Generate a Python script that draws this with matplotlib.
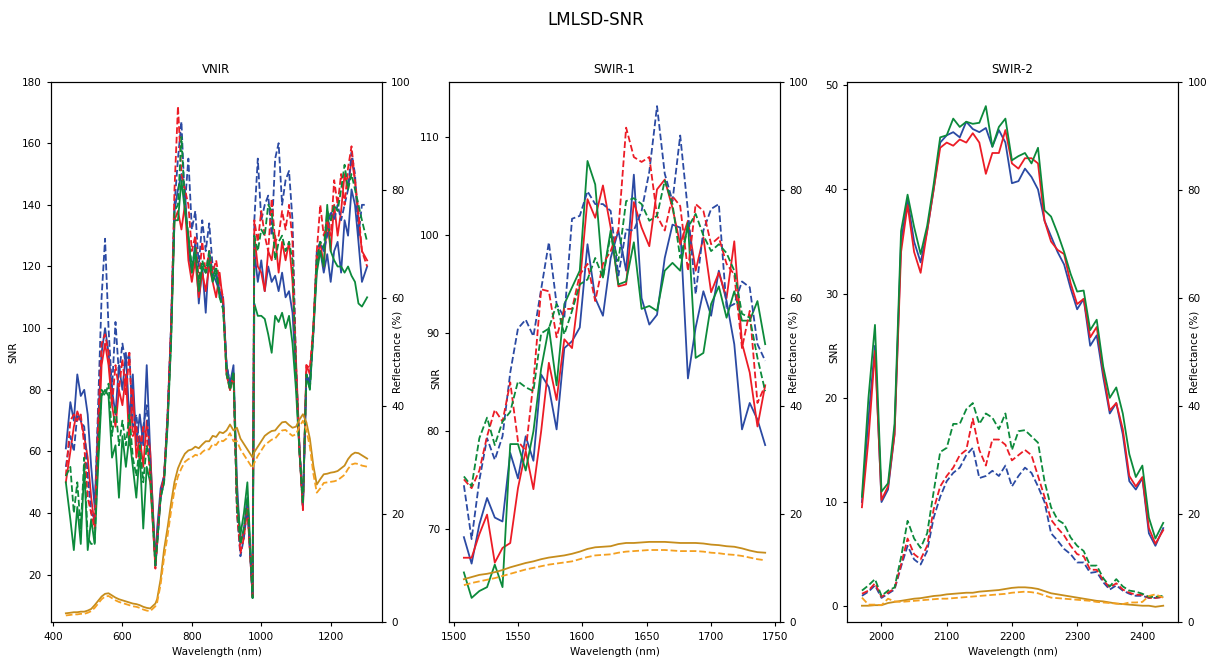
import matplotlib
matplotlib.use('Agg')
import matplotlib.pyplot as plt

# VNIR
vnir_wl = [437, 450, 460, 470, 480, 490, 500, 510, 520, 530,
           540, 550, 560, 570, 580, 590, 600, 610, 620, 630,
           640, 650, 660, 670, 680, 695, 700, 710, 720, 730,
           740, 750, 760, 770, 780, 790, 800, 810, 820, 830,
           840, 850, 860, 870, 880, 890, 900, 910, 920, 930,
           940, 950, 960, 975, 980, 990, 1000, 1010, 1020, 1030,
           1040, 1050, 1060, 1070, 1080, 1090, 1100, 1110, 1120, 1130,
           1140, 1150, 1160, 1170, 1180, 1190, 1200, 1210, 1220, 1230,
           1240, 1250, 1260, 1270, 1280, 1290, 1305]
vnir_blue = [61, 76, 70, 85, 78, 80, 72, 55, 42, 70,
             92, 100, 92, 80, 72, 88, 80, 92, 70, 85,
             62, 72, 62, 88, 60, 24, 35, 48, 52, 70,
             100, 138, 145, 150, 145, 125, 118, 128, 108, 120,
             105, 125, 118, 115, 112, 110, 88, 82, 88, 50,
             30, 35, 45, 12.5, 125, 115, 122, 112, 120, 115,
             117, 112, 118, 110, 112, 105, 85, 60, 42, 85,
             82, 100, 120, 125, 118, 124, 115, 125, 128, 118,
             135, 130, 145, 140, 128, 115, 120]
vnir_red = [50, 60, 68, 73, 70, 65, 58, 45, 36, 60,
            88, 95, 88, 75, 68, 80, 75, 85, 62, 80,
            58, 65, 55, 70, 60, 23, 32, 46, 52, 70,
            98, 135, 138, 132, 140, 122, 115, 122, 110, 118,
            112, 120, 115, 110, 118, 108, 85, 80, 85, 45,
            30, 34, 42, 13, 130, 120, 118, 112, 125, 122,
            130, 118, 128, 122, 128, 115, 90, 62, 41, 88,
            85, 100, 122, 128, 120, 135, 125, 140, 130, 138,
            150, 145, 155, 148, 135, 125, 122]
vnir_green = [50, 38, 28, 42, 30, 55, 28, 38, 30, 55,
              78, 80, 78, 58, 62, 45, 65, 55, 65, 55,
              45, 60, 35, 55, 50, 23, 30, 45, 50, 68,
              95, 135, 135, 148, 138, 130, 118, 125, 112, 120,
              118, 122, 115, 118, 110, 108, 88, 80, 85, 45,
              33, 40, 50, 12.5, 108, 104, 104, 103, 98, 92,
              104, 102, 105, 100, 104, 95, 80, 60, 43, 85,
              80, 98, 118, 125, 120, 140, 125, 122, 120, 120,
              118, 120, 117, 115, 108, 107, 110]
vnir_blue_d = [55, 65, 60, 72, 70, 68, 52, 40, 38, 75,
               110, 129, 100, 80, 102, 85, 95, 88, 92, 68,
               72, 60, 68, 75, 55, 23, 30, 45, 52, 72,
               100, 140, 155, 167, 140, 155, 132, 138, 120, 135,
               125, 134, 120, 118, 112, 108, 88, 82, 86, 40,
               26, 32, 42, 13, 135, 155, 135, 140, 143, 130,
               155, 160, 140, 148, 151, 135, 88, 62, 42, 85,
               82, 98, 125, 128, 125, 130, 138, 135, 140, 135,
               140, 145, 157, 150, 130, 140, 140]
vnir_red_d = [52, 70, 72, 70, 72, 62, 45, 40, 35, 70,
              95, 98, 92, 75, 88, 80, 90, 78, 92, 65,
              68, 58, 68, 65, 52, 22, 30, 46, 52, 72,
              100, 145, 172, 150, 145, 140, 125, 130, 115, 128,
              118, 125, 118, 122, 115, 110, 85, 80, 85, 40,
              27, 32, 42, 13, 135, 128, 138, 130, 125, 142,
              128, 130, 138, 132, 140, 128, 88, 60, 41, 88,
              87, 100, 125, 140, 130, 135, 130, 148, 140, 150,
              140, 152, 159, 148, 138, 125, 120]
vnir_green_d = [52, 55, 40, 50, 35, 58, 32, 30, 30, 60,
                80, 78, 82, 65, 75, 62, 70, 62, 72, 58,
                52, 62, 50, 62, 55, 23, 30, 45, 50, 70,
                95, 138, 140, 162, 140, 130, 120, 126, 115, 122,
                118, 125, 116, 120, 110, 106, 85, 80, 86, 42,
                30, 35, 45, 12.5, 130, 125, 132, 130, 140, 138,
                122, 128, 130, 125, 128, 122, 85, 60, 43, 85,
                80, 100, 122, 128, 126, 138, 135, 140, 138, 145,
                153, 145, 150, 145, 140, 135, 128]
vnir_refl = [1.7, 1.8, 1.9, 1.9, 2.0, 2.0, 2.2, 2.5, 3.2, 4.0,
             4.8, 5.3, 5.4, 5.0, 4.6, 4.3, 4.1, 3.9, 3.7, 3.5,
             3.4, 3.2, 2.9, 2.7, 2.6, 3.5, 4.3, 8, 13.5, 17.5,
             22, 26, 28.5, 30, 31.2, 31.8, 32, 32.5, 32.2, 32.9,
             33.5, 33.5, 34.5, 34.3, 35.2, 35, 35.5, 36.6, 35.5, 36,
             34, 33, 32, 30.5, 31.5, 32.5, 33.5, 34.5, 35, 35.4,
             35.5, 36.3, 37, 37.1, 36.5, 36, 36.2, 37.5, 38.5, 37,
             34, 29, 25.5, 26.5, 27.4, 27.5, 27.7, 27.8, 28, 28.5,
             29, 30.2, 31, 31.4, 31.3, 30.9, 30.3]
vnir_refl_d = [1.3, 1.4, 1.5, 1.5, 1.6, 1.6, 1.8, 2.1, 2.7, 3.5,
               4.3, 4.8, 4.9, 4.5, 4.1, 3.8, 3.6, 3.4, 3.2, 3.0,
               2.9, 2.7, 2.4, 2.2, 2.1, 3.0, 3.7, 7, 12, 16,
               20.5, 24.5, 27, 28.5, 29.7, 30.2, 30.5, 31, 30.8, 31.5,
               32, 32, 33, 32.8, 33.7, 33.5, 34, 35, 33.5, 33.5,
               32, 31, 30, 28.5, 29.5, 30.8, 31.8, 32.8, 33.3, 33.8,
               34, 34.8, 35.5, 35.6, 35, 34.5, 34.8, 36.2, 37.3, 35.5,
               32.5, 27.5, 24, 24.8, 25.8, 25.9, 26, 26.1, 26.3, 26.8,
               27.3, 28.4, 29.2, 29.4, 29.3, 29, 28.8]

# SWIR-1
swir1_wl = [1508, 1514, 1520, 1526, 1532, 1538, 1544, 1550, 1556, 1562,
            1568, 1574, 1580, 1586, 1592, 1598, 1604, 1610, 1616, 1622,
            1628, 1634, 1640, 1646, 1652, 1658, 1664, 1670, 1676, 1682,
            1688, 1694, 1700, 1706, 1712, 1718, 1724, 1730, 1736, 1742]
swir1_blue = [69.2, 66.5, 70.5, 73.2, 71.2, 70.8, 77.8, 75.2, 79.5, 77.0,
              85.8, 84.5, 80.2, 88.5, 89.2, 90.6, 99.1, 93.6, 91.8, 97.7,
              100.5, 96.4, 106.2, 93.6, 90.9, 91.9, 97.7, 101.1, 100.8, 85.4,
              90.6, 94.3, 91.8, 96.4, 93.3, 88.9, 80.2, 82.9, 81.2, 78.6]
swir1_red = [67.1, 67.1, 69.5, 71.5, 66.6, 68.1, 68.6, 74.2, 78.0, 74.1,
             80.0, 87.0, 83.2, 89.4, 88.5, 95.0, 103.7, 101.8, 105.1, 100.8,
             94.8, 95.0, 103.4, 100.8, 98.9, 104.7, 105.7, 102.8, 99.1, 101.5,
             96.4, 99.8, 94.2, 96.2, 93.6, 99.4, 89.0, 86.0, 80.5, 84.7]
swir1_green = [65.6, 63.0, 63.7, 64.1, 66.4, 64.1, 78.7, 78.7, 76.0, 80.0,
               86.4, 90.6, 84.7, 93.0, 94.7, 96.4, 107.6, 105.2, 95.7, 100.5,
               95.0, 95.3, 99.3, 92.5, 92.8, 92.3, 96.4, 97.2, 96.4, 101.3,
               87.5, 88.0, 93.0, 94.8, 91.6, 94.3, 91.3, 91.3, 93.3, 88.9]
swir1_blue_d = [74.5, 69.0, 75.0, 79.3, 77.1, 79.5, 86.0, 90.5, 91.4, 89.7,
                94.5, 99.3, 93.0, 91.6, 101.7, 102.0, 104.5, 103.2, 103.2, 102.5,
                95.9, 100.6, 100.5, 102.5, 106.5, 113.2, 106.3, 103.5, 110.2, 102.5,
                94.0, 100.5, 102.7, 103.2, 92.6, 93.0, 95.3, 94.7, 88.9, 87.2]
swir1_red_d = [75.1, 74.2, 76.0, 79.5, 82.2, 81.0, 85.0, 79.0, 78.0, 85.0,
               94.5, 94.3, 89.6, 92.5, 92.5, 96.0, 97.1, 93.3, 97.1, 98.4,
               100.6, 111.0, 108.0, 107.5, 108.0, 102.0, 100.5, 104.0, 103.0, 96.4,
               103.2, 102.5, 99.1, 99.8, 97.1, 96.0, 88.5, 92.3, 82.9, 84.7]
swir1_green_d = [75.4, 74.4, 79.3, 81.4, 78.6, 81.0, 82.0, 85.1, 84.5, 84.1,
                 90.0, 90.5, 93.0, 89.9, 92.3, 95.0, 95.5, 97.7, 95.7, 100.1,
                 97.4, 103.5, 103.8, 103.2, 101.5, 102.0, 105.6, 103.2, 97.7, 100.8,
                 102.2, 100.0, 98.4, 99.1, 98.2, 96.4, 92.0, 91.6, 87.5, 84.1]
swir1_refl = [8.0, 8.4, 8.8, 9.0, 9.3, 9.7, 10.2, 10.6, 11.0, 11.3,
              11.7, 12.0, 12.2, 12.4, 12.7, 13.1, 13.6, 13.9, 14.0, 14.1,
              14.5, 14.7, 14.7, 14.8, 14.9, 14.9, 14.9, 14.8, 14.7, 14.7,
              14.7, 14.6, 14.4, 14.3, 14.1, 14.0, 13.7, 13.3, 13.0, 12.9]
swir1_refl_d = [6.9, 7.3, 7.6, 7.9, 8.2, 8.6, 9.0, 9.4, 9.8, 10.1,
                10.4, 10.7, 10.9, 11.1, 11.3, 11.7, 12.1, 12.4, 12.5, 12.6,
                12.9, 13.1, 13.2, 13.3, 13.4, 13.4, 13.4, 13.3, 13.2, 13.2,
                13.2, 13.1, 12.9, 12.8, 12.6, 12.5, 12.3, 12.0, 11.7, 11.5]

# SWIR-2
swir2_wl = [1970, 1980, 1990, 2000, 2010, 2020, 2030, 2040, 2050, 2060,
            2070, 2080, 2090, 2100, 2110, 2120, 2130, 2140, 2150, 2160,
            2170, 2180, 2190, 2200, 2210, 2220, 2230, 2240, 2250, 2260,
            2270, 2280, 2290, 2300, 2310, 2320, 2330, 2340, 2350, 2360,
            2370, 2380, 2390, 2400, 2410, 2420, 2432]
swir2_blue = [10, 18, 25, 10, 11.2, 16.5, 35, 39, 35, 33,
              36, 40, 44.5, 45.2, 45.5, 45, 46.5, 45.8, 45.5, 45.9,
              44.1, 45.7, 44.5, 40.6, 40.8, 42, 41.2, 40, 37, 35.5,
              34, 32.8, 30.5, 28.5, 29.5, 25, 26, 22, 18.5, 19.5,
              16.5, 12, 11.2, 12.3, 7, 5.8, 7.5]
swir2_red = [9.5, 16, 24.5, 10.2, 11.5, 16.5, 34, 38.5, 34, 32,
             36, 40, 44, 44.5, 44.2, 44.8, 44.5, 45.4, 44.5, 41.5,
             43.5, 43.5, 45.7, 42.5, 42, 43, 43, 42.5, 37, 35,
             34.2, 33.8, 31, 29, 29.5, 25.8, 26.8, 22.5, 18.8, 19.5,
             17, 12.5, 11.5, 12.4, 7.5, 6, 7.3]
swir2_green = [10.5, 20, 27, 11, 11.8, 17.5, 36, 39.5, 36.4, 33.8,
               36.5, 40.5, 45, 45.2, 46.8, 46, 46.5, 46.3, 46.4, 48,
               44.1, 46, 46.8, 42.8, 43.2, 43.5, 42.5, 44, 38, 37.4,
               35.8, 34, 31.9, 30.2, 30.3, 26.5, 27.5, 23, 20, 21,
               18.5, 14.6, 12.4, 13.5, 8.5, 6.5, 8]
swir2_blue_d = [1.0, 1.4, 2.0, 0.8, 1.2, 1.6, 3.8, 5.8, 4.5, 4.0,
                5.3, 8.5, 10.5, 12, 12.8, 13.3, 14.5, 15.2, 12.3, 12.5,
                13, 12.5, 13.5, 11.5, 12.5, 13.3, 12.8, 11.5, 10, 7,
                6.3, 5.5, 5, 4.2, 4.2, 3.2, 3.3, 2.3, 1.6, 2.0,
                1.5, 1.2, 1.0, 1.0, 0.8, 0.8, 0.9]
swir2_red_d = [1.2, 1.5, 2.2, 0.9, 1.3, 1.7, 4, 6.5, 5, 4.5,
               5.8, 9.3, 11.5, 12.5, 13.3, 14.5, 15, 18, 15, 13.5,
               16, 16, 15.5, 14, 14.5, 15, 14.5, 12.5, 10.5, 8.3,
               7.5, 6.8, 5.8, 5, 4.8, 3.5, 3.5, 2.5, 1.8, 2.2,
               1.6, 1.3, 1.1, 1.1, 0.8, 0.8, 0.9]
swir2_green_d = [1.5, 2.0, 2.6, 1.0, 1.5, 1.8, 4.7, 8.2, 6.5, 5.6,
                 7, 11, 14.8, 15.2, 17.5, 17.5, 18.9, 19.5, 17.5, 18.5,
                 18.1, 17, 18.5, 15, 16.8, 16.9, 16.3, 15.7, 12, 9.5,
                 8.3, 7.9, 6.6, 5.8, 5.3, 3.9, 3.9, 2.7, 1.9, 2.6,
                 1.9, 1.5, 1.4, 1.2, 0.9, 0.9, 1.0]
swir2_refl = [3.1, 3.1, 3.2, 3.2, 3.6, 3.8, 4.0, 4.2, 4.4, 4.5,
              4.7, 4.9, 5.0, 5.2, 5.3, 5.4, 5.5, 5.5, 5.7, 5.8,
              5.9, 6.0, 6.2, 6.4, 6.5, 6.5, 6.4, 6.2, 5.8, 5.4,
              5.2, 5.0, 4.8, 4.6, 4.4, 4.2, 4.0, 3.9, 3.7, 3.5,
              3.4, 3.3, 3.2, 3.1, 3.1, 2.9, 3.1]
swir2_refl_d = [4.6, 3.3, 3.3, 3.2, 4.4, 3.9, 3.8, 3.9, 4.0, 4.1,
                4.2, 4.3, 4.4, 4.4, 4.5, 4.6, 4.7, 4.8, 4.9, 5.0,
                5.1, 5.2, 5.3, 5.5, 5.6, 5.7, 5.6, 5.4, 5.0, 4.6,
                4.5, 4.4, 4.3, 4.2, 4.1, 4.0, 3.8, 3.7, 3.6, 3.5,
                3.4, 3.7, 3.7, 3.8, 4.9, 5.2, 4.6]

panels = [
    ('VNIR', vnir_wl, [vnir_blue, vnir_red, vnir_green],
     [vnir_blue_d, vnir_red_d, vnir_green_d], vnir_refl, vnir_refl_d, range(20, 181, 20)),
    ('SWIR-1', swir1_wl, [swir1_blue, swir1_red, swir1_green],
     [swir1_blue_d, swir1_red_d, swir1_green_d], swir1_refl, swir1_refl_d, range(70, 111, 10)),
    ('SWIR-2', swir2_wl, [swir2_blue, swir2_red, swir2_green],
     [swir2_blue_d, swir2_red_d, swir2_green_d], swir2_refl, swir2_refl_d, range(0, 51, 10)),
]
xticks = [range(400, 1201, 200), range(1500, 1751, 50), range(2000, 2401, 100)]
# where the axis labels sit in the original (axes coords)
snr_label_pos = [(-0.099, 0.5), (-0.022, 0.452), (-0.023, 0.5)]
refl_label_pos = [(1.031, 0.5), (1.024, 0.5), (1.035, 0.5)]

colors = ['#2b4aa3', '#ec1c26', '#0c8a3b']
orange_solid = '#c68d1c'
orange_dash = '#f4a020'
lw = 1.3
fs = 7.5

fig, axes = plt.subplots(1, 3, figsize=(12.09, 6.59), dpi=100)
fig.subplots_adjust(left=0.042, right=0.9746, top=0.8763, bottom=0.0554, wspace=0.201)

for i, (name, wl, solid, dashed, refl, refl_d, yt) in enumerate(panels):
    ax = axes[i]
    for c, s in zip(colors, solid):
        ax.plot(wl, s, color=c, lw=lw)
    for c, s in zip(colors, dashed):
        ax.plot(wl, s, color=c, lw=lw, ls='--')
    ax.set_yticks(list(yt))
    ax.set_xticks(list(xticks[i]))
    ax.set_title(name, fontsize=8.5)
    ax.set_xlabel('Wavelength (nm)', fontsize=fs)
    ax.set_ylabel('SNR', fontsize=fs)
    ax.yaxis.set_label_coords(*snr_label_pos[i])
    ax.tick_params(labelsize=fs, length=3)

    ax2 = ax.twinx()
    ax2.plot(wl, refl, color=orange_solid, lw=lw)
    ax2.plot(wl, refl_d, color=orange_dash, lw=lw, ls='--')
    ax2.set_ylim(0, 100)
    ax2.set_yticks(range(0, 101, 20))
    ax2.set_ylabel('Reflectance (%)', fontsize=fs)
    ax2.yaxis.set_label_coords(*refl_label_pos[i])
    ax2.tick_params(labelsize=fs, length=3)

fig.suptitle('LMLSD-SNR', fontsize=12, x=0.4926, y=0.983)
fig.savefig('out.png', dpi=100)
